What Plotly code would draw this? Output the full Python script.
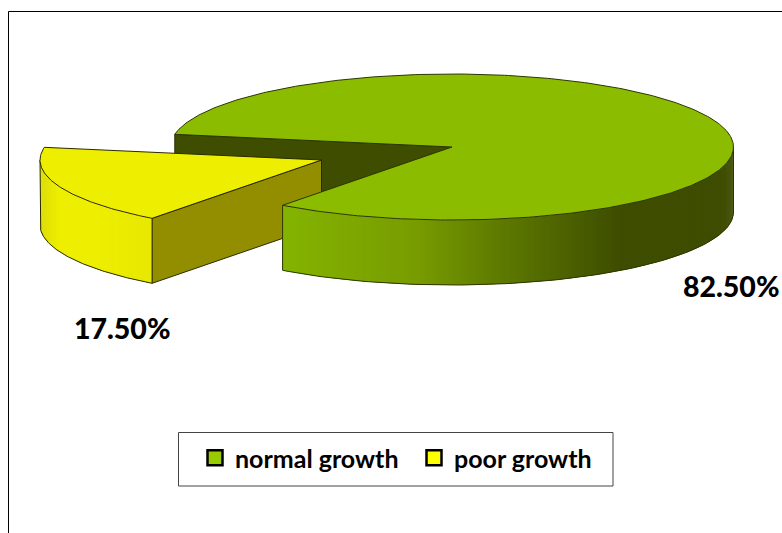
import math
import plotly.graph_objects as go

# Chart data
categories = ["normal growth", "poor growth"]
percentages = [82.5, 17.5]
label_anchor = [(731, 285.5), (122, 328)]

# Projection of the tilted disc onto the page (px)
CX, CY = 452.0, 147.0
RX, RY = 281.5, 73.0
DEPTH = 65.0
START_DEG = 233.0          # where the first slice begins, counter-clockwise
EXPLODE = (-130.5, 13.0)   # shift applied to the pulled-out slice

TOP = {"normal growth": "#8cbc00", "poor growth": "#eeee00"}
WALL = {"normal growth": "#3e4d00", "poor growth": "#928e00"}
EDGE = {"normal growth": "#2c3600", "poor growth": "#2a2a00"}
SWATCH = {"normal growth": "#99cc00", "poor growth": "#ffff00"}
SIDE_RAMP = {
    "normal growth": [(0.0, "#84b400"), (0.3, "#789c00"), (0.48, "#5f7b00"),
                      (0.75, "#3e4d00"), (1.0, "#3e4d00")],
    "poor growth": [(0.0, "#dada00"), (0.16, "#eeee00"), (0.5, "#eeee00"),
                    (1.0, "#e8e800")],
}


def hex_rgb(h):
    return tuple(int(h[i:i + 2], 16) for i in (1, 3, 5))


def ramp(stops, f):
    for (a, ca), (b, cb) in zip(stops, stops[1:]):
        if f <= b:
            u = (f - a) / (b - a) if b > a else 0
            ra, rb = hex_rgb(ca), hex_rgb(cb)
            return "rgb(%d,%d,%d)" % tuple(round(p + (q - p) * u) for p, q in zip(ra, rb))
    return stops[-1][1]


def rim(deg, ox, oy, dz=0.0):
    t = math.radians(deg)
    return ox + CX + RX * math.cos(t), oy + CY - RY * math.sin(t) + dz


def arc(a, b, ox, oy, dz=0.0, n=90):
    pts = [rim(a + (b - a) * i / n, ox, oy, dz) for i in range(n + 1)]
    return [p[0] for p in pts], [p[1] for p in pts]


def poly(fig, xs, ys, fill, line=None, width=1.0):
    fig.add_trace(go.Scatter(
        x=xs, y=ys, mode="lines", fill="toself", fillcolor=fill,
        line=dict(color=line or fill, width=width if line else 0),
        hoverinfo="skip", showlegend=False))


def stroke(fig, xs, ys, color):
    fig.add_trace(go.Scatter(x=xs, y=ys, mode="lines", line=dict(color=color, width=1),
                             hoverinfo="skip", showlegend=False))


def outer_side(fig, name, a, b, ox, oy):
    """Curved wall of a slice, shaded in narrow strips from left to right."""
    lo, hi = max(a, 180.0), min(b, 360.0)
    x0, x1 = rim(lo, ox, oy)[0], rim(hi, ox, oy)[0]
    steps = int(hi - lo) * 2
    for i in range(steps):
        p, q = lo + (hi - lo) * i / steps, lo + (hi - lo) * min(i + 2, steps) / steps
        tx, ty = arc(p, q, ox, oy, n=4)
        bx, by = arc(q, p, ox, oy, DEPTH, n=4)
        f = (rim((p + q) / 2, ox, oy)[0] - x0) / (x1 - x0)
        poly(fig, tx + bx, ty + by, ramp(SIDE_RAMP[name], f))
    bx, by = arc(lo, hi, ox, oy, DEPTH)
    stroke(fig, [rim(lo, ox, oy)[0]] + bx + [rim(hi, ox, oy)[0]],
           [rim(lo, ox, oy)[1]] + by + [rim(hi, ox, oy)[1]], EDGE[name])


# Slice angles follow directly from the percentages
sweeps = [p / sum(percentages) * 360.0 for p in percentages]
a0 = START_DEG
a1 = a0 + sweeps[0]
b0 = a1 - 360.0            # the second slice, wrapped back into one turn
b1 = b0 + sweeps[1]
normal, poor = categories

fig = go.Figure()

# Back cut face of the large slice, seen through the gap
ex, ey = rim(b0, 0, 0)
poly(fig, [ex, CX, CX, ex, ex], [ey, CY, CY + DEPTH, ey + DEPTH, ey], WALL[normal], EDGE[normal])

# Pulled-out slice: cut face, curved wall, top
ox, oy = EXPLODE
ax, ay = CX + ox, CY + oy
px, py = rim(b1, ox, oy)
poly(fig, [ax, px, px, ax, ax], [ay, py, py + DEPTH, ay + DEPTH, ay], WALL[poor], EDGE[poor])
outer_side(fig, poor, b0, b1, ox, oy)
tx, ty = arc(b0, b1, ox, oy)
poly(fig, [ax] + tx + [ax], [ay] + ty + [ay], TOP[poor], EDGE[poor])

# Large slice: curved wall, then top
outer_side(fig, normal, a0, a1, 0, 0)
tx, ty = arc(a0, a1, 0, 0, n=360)
poly(fig, [CX] + tx + [CX], [CY] + ty + [CY], TOP[normal], EDGE[normal])

# Legend entries
for name in categories:
    fig.add_trace(go.Scatter(
        x=[None], y=[None], mode="markers", name=name,
        marker=dict(symbol="square", size=15, color=SWATCH[name],
                    line=dict(color="#000000", width=2.5))))

# Percentage labels
annotations = [
    dict(x=x, y=y, xref="x", yref="y", text="%.2f%%" % p, showarrow=False,
         font=dict(family="Lato", size=28.5, color="#000000", weight=900))
    for p, (x, y) in zip(percentages, label_anchor)
]

# Chart frame and legend box
shapes = [
    dict(type="line", x0=8.5, x1=8.5, y0=11.5, y1=533, line=dict(color="#000000", width=1)),
    dict(type="line", x0=8.5, x1=782, y0=11.5, y1=11.5, line=dict(color="#000000", width=1)),
    dict(type="rect", x0=178.5, x1=613, y0=432.5, y1=486, line=dict(color="#444444", width=1)),
]

fig.update_layout(
    width=782, height=533, autosize=False,
    margin=dict(l=0, r=0, t=0, b=0),
    paper_bgcolor="white", plot_bgcolor="white",
    xaxis=dict(range=[0, 782], visible=False, fixedrange=True),
    yaxis=dict(range=[533, 0], visible=False, fixedrange=True),
    annotations=annotations, shapes=shapes,
    hovermode=False,
    legend=dict(
        orientation="h", x=195 / 782, xanchor="left", y=1 - 458 / 533, yanchor="middle",
        bgcolor="rgba(0,0,0,0)", borderwidth=0,
        font=dict(family="Lato", size=25, color="#000000", weight="bold"),
        entrywidth=174, entrywidthmode="pixels", traceorder="normal",
    ),
)

fig.write_html("out.html", config={"displayModeBar": False})
